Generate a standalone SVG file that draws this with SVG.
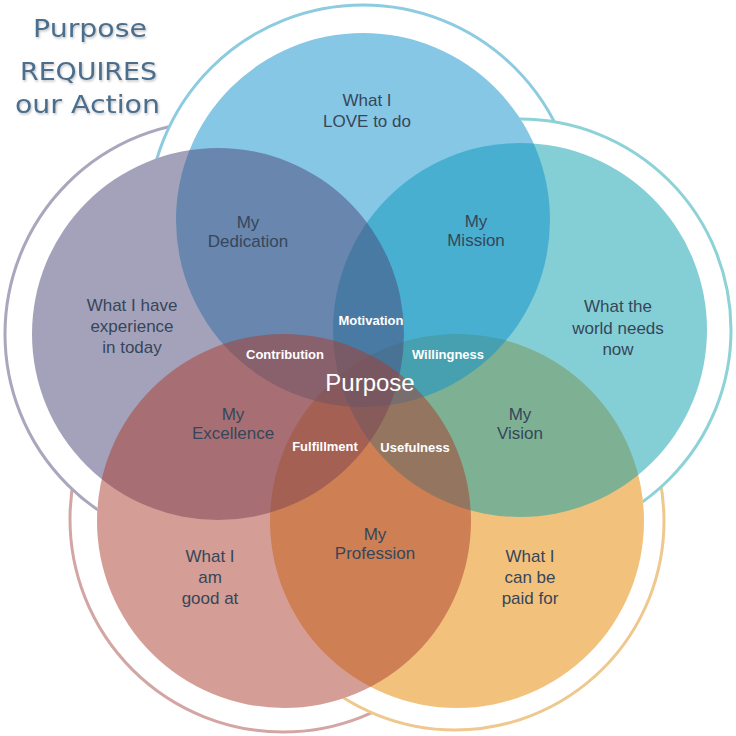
<svg xmlns="http://www.w3.org/2000/svg" width="736" height="736" viewBox="0 0 736 736">
  <defs>
    <style>
      .ring { fill: #ffffff; stroke-width: 3; }
      .base { fill: #ffffff; }
      .fill { fill-opacity: 0.5; }
      .lbl { font-family: "Liberation Sans", Arial, sans-serif; font-size: 17px; fill: #36465A; text-anchor: middle; }
      .sm { font-family: "Liberation Sans", Arial, sans-serif; font-size: 13px; font-weight: bold; fill: #ffffff; text-anchor: middle; }
      .big { font-family: "Liberation Sans", Arial, sans-serif; font-size: 24px; fill: #ffffff; text-anchor: middle; }
      .title { font-family: "DejaVu Sans", "Liberation Sans", sans-serif; font-size: 24px; fill: #4C6E8C; }
    </style>
    <filter id="shadow" x="-10%" y="-20%" width="130%" height="150%">
      <feDropShadow dx="1" dy="1.5" stdDeviation="1" flood-color="#000000" flood-opacity="0.25"/>
    </filter>
  </defs>
  <rect width="736" height="736" fill="#ffffff"/>

  <g id="rings">
    <circle class="ring" cx="283" cy="519" r="213" stroke="#D3A6A3"/>
    <circle class="ring" cx="455" cy="521" r="209" stroke="#EFC88E"/>
    <circle class="ring" cx="218" cy="334" r="213" stroke="#A8A7BE"/>
    <circle class="ring" cx="363" cy="220" r="215" stroke="#8DCBE0"/>
    <circle class="ring" cx="520" cy="330" r="211" stroke="#8DD2D6"/>
  </g>

  <g id="bases">
    <circle class="base" cx="457" cy="521" r="187"/>
    <circle class="base" cx="520" cy="330" r="187"/>
    <circle class="base" cx="363" cy="220" r="187"/>
    <circle class="base" cx="218" cy="334" r="186"/>
    <circle class="base" cx="284" cy="521" r="187"/>
  </g>

  <g id="paid-for">
    <circle cx="457" cy="521" r="187" fill="#F2C27C"/>
  </g>
  <g id="world-needs">
    <circle class="fill" cx="520" cy="330" r="187" fill="#099FAB"/>
  </g>
  <g id="love">
    <circle class="fill" cx="363" cy="220" r="187" fill="#0D8FCB"/>
  </g>
  <g id="experience">
    <circle class="fill" cx="218" cy="334" r="186" fill="#494577"/>
  </g>
  <g id="good-at">
    <circle class="fill" cx="284" cy="521" r="187" fill="#A93B2B"/>
  </g>

  <g id="labels">
    <text class="lbl" x="367" y="106">What I</text>
    <text class="lbl" x="367" y="127">LOVE to do</text>

    <text class="lbl" x="132" y="311">What I have</text>
    <text class="lbl" x="132" y="332">experience</text>
    <text class="lbl" x="132" y="353">in today</text>

    <text class="lbl" x="618" y="312">What the</text>
    <text class="lbl" x="618" y="334">world needs</text>
    <text class="lbl" x="618" y="355">now</text>

    <text class="lbl" x="210" y="562">What I</text>
    <text class="lbl" x="210" y="583">am</text>
    <text class="lbl" x="210" y="604">good at</text>

    <text class="lbl" x="530" y="562">What I</text>
    <text class="lbl" x="530" y="583">can be</text>
    <text class="lbl" x="530" y="604">paid for</text>

    <text class="lbl" x="248" y="228">My</text>
    <text class="lbl" x="248" y="247">Dedication</text>

    <text class="lbl" x="476" y="227">My</text>
    <text class="lbl" x="476" y="246">Mission</text>

    <text class="lbl" x="233" y="420">My</text>
    <text class="lbl" x="233" y="439">Excellence</text>

    <text class="lbl" x="520" y="420">My</text>
    <text class="lbl" x="520" y="439">Vision</text>

    <text class="lbl" x="375" y="540">My</text>
    <text class="lbl" x="375" y="559">Profession</text>

    <text class="sm" x="371" y="325">Motivation</text>
    <text class="sm" x="285" y="359">Contribution</text>
    <text class="sm" x="448" y="359">Willingness</text>
    <text class="sm" x="325" y="451">Fulfillment</text>
    <text class="sm" x="415" y="452">Usefulness</text>
    <text class="big" x="370" y="391">Purpose</text>
  </g>

  <g id="title" filter="url(#shadow)">
    <text class="title" x="33" y="37" textLength="114" lengthAdjust="spacingAndGlyphs">Purpose</text>
    <text class="title" x="20" y="80" textLength="137" lengthAdjust="spacingAndGlyphs">REQUIRES</text>
    <text class="title" x="15" y="113" textLength="145" lengthAdjust="spacingAndGlyphs">our Action</text>
  </g>
</svg>
